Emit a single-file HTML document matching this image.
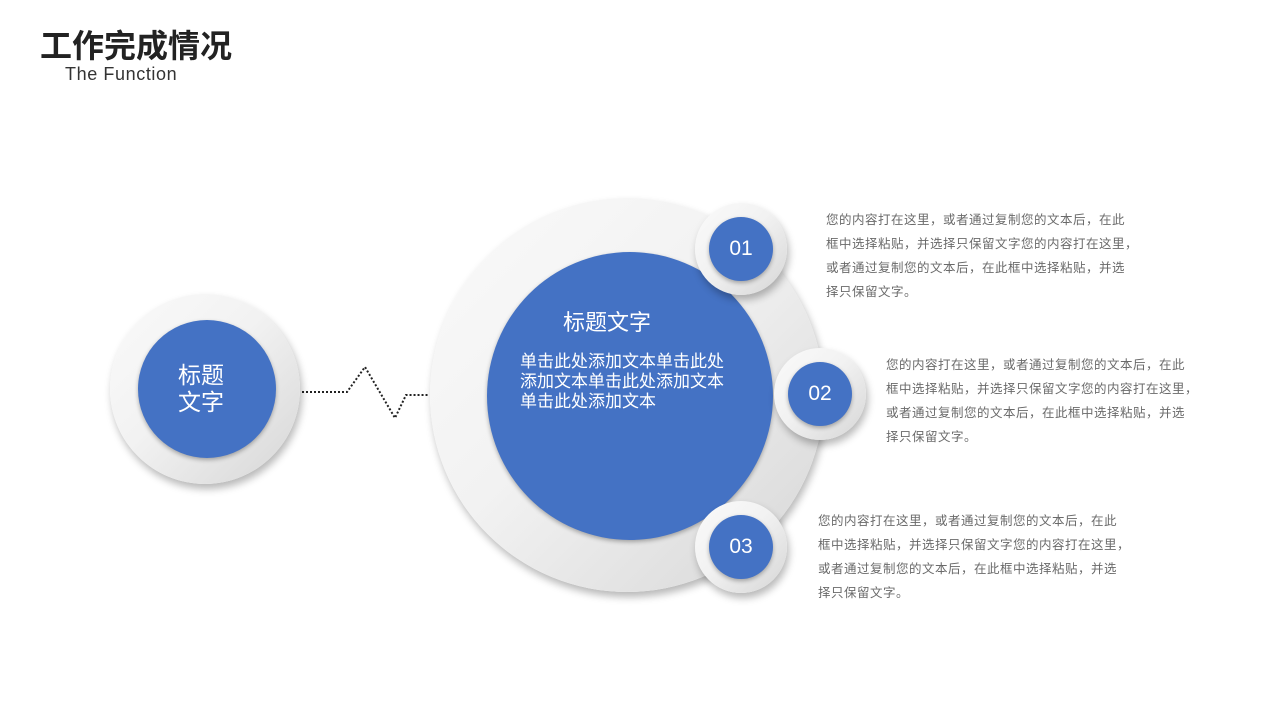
<!DOCTYPE html>
<html><head><meta charset="utf-8"><style>
body{margin:0;width:1280px;height:720px;background:#fff;position:relative;overflow:hidden;font-family:"Liberation Sans","Noto Sans CJK SC",sans-serif}
.a{position:absolute}
.c{position:absolute;border-radius:50%}
.ring{background:linear-gradient(135deg,#fafafa 0%,#f2f2f2 45%,#d6d6d6 100%);box-shadow:2px 5px 8px rgba(0,0,0,.28)}
.blue{background:#4472c4;box-shadow:0 2px 4px rgba(0,0,0,.3)}
.num{color:#fff;font-size:21px;text-align:center;display:flex;align-items:center;justify-content:center}
.t{position:absolute;font-size:12.5px;letter-spacing:0.5px;color:#6a6a6a;line-height:24px;white-space:nowrap}
</style></head><body>
<div class="a" style="left:40px;top:21px;font-size:32px;font-weight:bold;color:#222">工作完成情况</div>
<div class="a" style="left:65px;top:64px;font-size:18px;letter-spacing:0.6px;color:#333">The Function</div>

<svg class="a" style="left:0;top:0" width="1280" height="720">
<polyline points="302,392 347,392 365,367 395,418 406,395 428,395" fill="none" stroke="#222" stroke-width="2" stroke-dasharray="2,2"/>
</svg>

<div class="c ring" style="left:110px;top:294px;width:190px;height:190px"></div>
<div class="c blue num" style="left:138px;top:320px;width:138px;height:138px;font-size:23px;line-height:27px"><span style="margin-left:-12px">标题<br>文字</span></div>

<div class="c ring" style="left:430px;top:198px;width:394px;height:394px"></div>
<div class="c blue" style="left:487px;top:252px;width:286px;height:288px"></div>
<div class="a" style="left:563px;top:305px;font-size:22px;color:#fff">标题文字</div>
<div class="a" style="left:520px;top:352px;font-size:17px;color:#fff;line-height:20px">单击此处添加文本单击此处<br>添加文本单击此处添加文本<br>单击此处添加文本</div>

<div class="c ring" style="left:695px;top:203px;width:92px;height:92px"></div>
<div class="c blue num" style="left:709px;top:217px;width:64px;height:64px">01</div>
<div class="c ring" style="left:774px;top:348px;width:92px;height:92px"></div>
<div class="c blue num" style="left:788px;top:362px;width:64px;height:64px">02</div>
<div class="c ring" style="left:695px;top:501px;width:92px;height:92px"></div>
<div class="c blue num" style="left:709px;top:515px;width:64px;height:64px">03</div>

<div class="t" style="left:826px;top:208px">您的内容打在这里，或者通过复制您的文本后，在此<br>框中选择粘贴，并选择只保留文字您的内容打在这里，<br>或者通过复制您的文本后，在此框中选择粘贴，并选<br>择只保留文字。</div>
<div class="t" style="left:886px;top:353px">您的内容打在这里，或者通过复制您的文本后，在此<br>框中选择粘贴，并选择只保留文字您的内容打在这里，<br>或者通过复制您的文本后，在此框中选择粘贴，并选<br>择只保留文字。</div>
<div class="t" style="left:818px;top:509px">您的内容打在这里，或者通过复制您的文本后，在此<br>框中选择粘贴，并选择只保留文字您的内容打在这里，<br>或者通过复制您的文本后，在此框中选择粘贴，并选<br>择只保留文字。</div>
</body></html>
